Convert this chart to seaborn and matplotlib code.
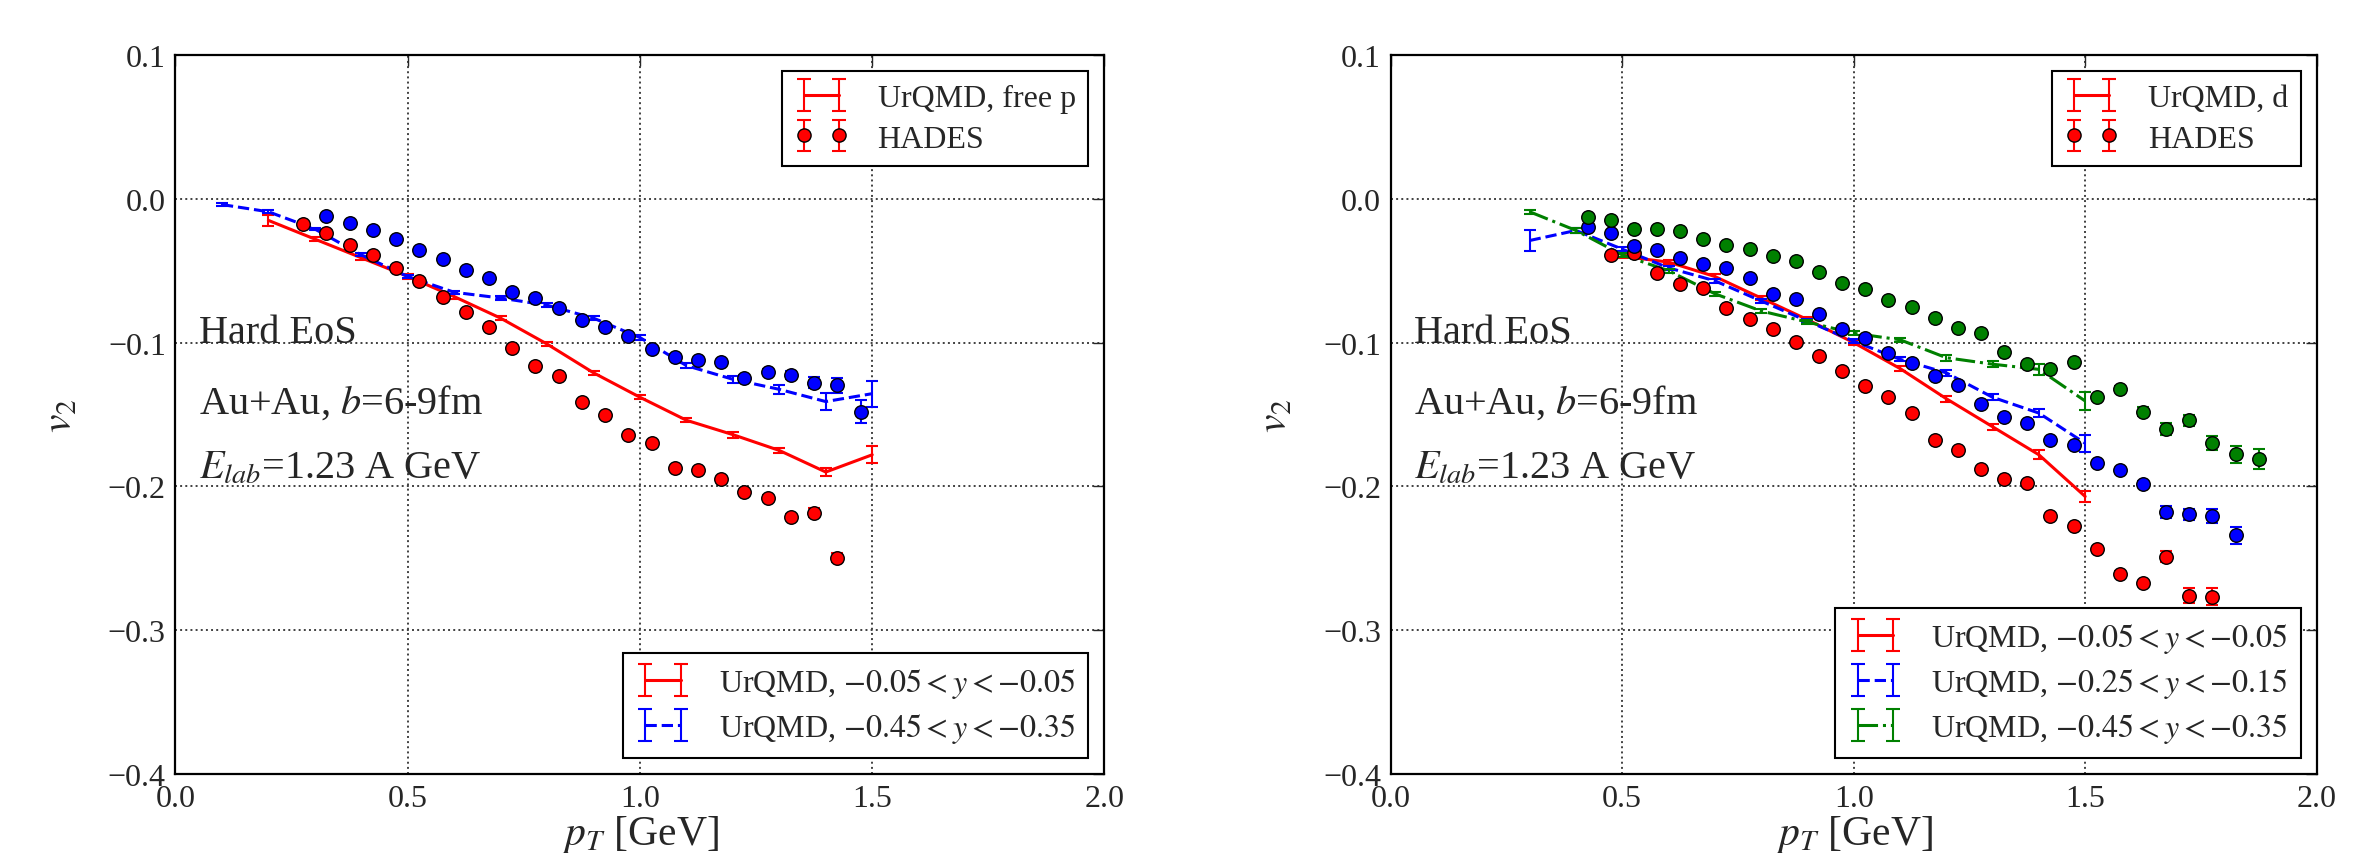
import numpy as np
import matplotlib
matplotlib.use("Agg")
import matplotlib.pyplot as plt
import seaborn as sns

# =========================
# Data
# =========================
# left panel: free protons
pt_urqmd_p = [0.2, 0.3, 0.4, 0.5, 0.6, 0.7, 0.8, 0.9, 1.0, 1.1, 1.2, 1.3, 1.4, 1.5]
v2_urqmd_p_mid = [-0.015, -0.028, -0.041, -0.054, -0.068, -0.083, -0.101, -0.121,
                  -0.138, -0.154, -0.164, -0.175, -0.190, -0.178]
err_urqmd_p_mid = [0.004, 0.0015, 0.0015, 0.0015, 0.0015, 0.0015, 0.0015, 0.0015,
                   0.0015, 0.0015, 0.002, 0.002, 0.003, 0.006]

pt_urqmd_p_fwd = [0.1, 0.2, 0.3, 0.4, 0.5, 0.6, 0.7, 0.8, 0.9, 1.0, 1.1, 1.2, 1.3, 1.4, 1.5]
v2_urqmd_p_fwd = [-0.004, -0.009, -0.021, -0.039, -0.054, -0.065, -0.069, -0.074, -0.083,
                  -0.0965, -0.116, -0.1255, -0.1325, -0.141, -0.1355]
err_urqmd_p_fwd = [0.001, 0.001, 0.001, 0.001, 0.001, 0.001, 0.0015, 0.0015, 0.0015,
                   0.0015, 0.002, 0.0025, 0.003, 0.006, 0.009]

pt_hades_p_mid = [0.275, 0.325, 0.375, 0.425, 0.475, 0.525, 0.575, 0.625, 0.675, 0.725,
                  0.775, 0.825, 0.875, 0.925, 0.975, 1.025, 1.075, 1.125, 1.175, 1.225,
                  1.275, 1.325, 1.375, 1.425]
v2_hades_p_mid = [-0.0177, -0.0241, -0.0323, -0.0392, -0.0483, -0.0571, -0.068, -0.0786,
                  -0.089, -0.1038, -0.1163, -0.1231, -0.141, -0.1502, -0.1643, -0.1699,
                  -0.187, -0.1887, -0.1951, -0.2037, -0.2083, -0.2211, -0.2183, -0.2496]
err_hades_p_mid = [0.001] * 18 + [0.0015, 0.0015, 0.002, 0.002, 0.003, 0.003]

pt_hades_p_fwd = [0.325, 0.375, 0.425, 0.475, 0.525, 0.575, 0.625, 0.675, 0.725, 0.775,
                  0.825, 0.875, 0.925, 0.975, 1.025, 1.075, 1.125, 1.175, 1.225, 1.275,
                  1.325, 1.375, 1.425, 1.475]
v2_hades_p_fwd = [-0.0119, -0.017, -0.0216, -0.0281, -0.0356, -0.042, -0.0493, -0.0551,
                  -0.0645, -0.0689, -0.0756, -0.0843, -0.0889, -0.0952, -0.1047, -0.1097,
                  -0.1123, -0.1135, -0.1244, -0.1205, -0.1225, -0.1278, -0.1297, -0.148]
err_hades_p_fwd = [0.001] * 18 + [0.002, 0.002, 0.003, 0.004, 0.005, 0.008]

# right panel: deuterons
pt_urqmd_d_mid = [0.5, 0.6, 0.7, 0.8, 0.9, 1.0, 1.1, 1.2, 1.3, 1.4, 1.5]
v2_urqmd_d_mid = [-0.040, -0.044, -0.054, -0.069, -0.084, -0.100, -0.118, -0.139,
                  -0.1585, -0.178, -0.207]
err_urqmd_d_mid = [0.0015, 0.0015, 0.0015, 0.0015, 0.0015, 0.0015, 0.0015, 0.002,
                   0.002, 0.003, 0.004]

pt_urqmd_d_int = [0.3, 0.4, 0.5, 0.6, 0.7, 0.8, 0.9, 1.0, 1.1, 1.2, 1.3, 1.4, 1.5]
v2_urqmd_d_int = [-0.029, -0.022, -0.035, -0.048, -0.057, -0.071, -0.085, -0.099,
                  -0.1116, -0.121, -0.138, -0.149, -0.170]
err_urqmd_d_int = [0.007, 0.0015, 0.0015, 0.0015, 0.0015, 0.0015, 0.0015, 0.0015,
                   0.0015, 0.002, 0.002, 0.003, 0.006]

pt_urqmd_d_fwd = [0.3, 0.4, 0.5, 0.6, 0.7, 0.8, 0.9, 1.0, 1.1, 1.2, 1.3, 1.4, 1.5]
v2_urqmd_d_fwd = [-0.009, -0.022, -0.039, -0.050, -0.066, -0.078, -0.0857, -0.0935,
                  -0.098, -0.1105, -0.115, -0.1186, -0.1406]
err_urqmd_d_fwd = [0.0015, 0.0015, 0.0015, 0.0015, 0.0015, 0.0015, 0.0015, 0.0015,
                   0.0015, 0.002, 0.002, 0.004, 0.006]

pt_hades_d_mid = [0.475, 0.525, 0.575, 0.625, 0.675, 0.725, 0.775, 0.825, 0.875, 0.925,
                  0.975, 1.025, 1.075, 1.125, 1.175, 1.225, 1.275, 1.325, 1.375, 1.425,
                  1.475, 1.525, 1.575, 1.625, 1.675, 1.725, 1.775]
v2_hades_d_mid = [-0.0393, -0.0374, -0.0513, -0.0594, -0.0617, -0.0756, -0.0833, -0.0907,
                  -0.0996, -0.1093, -0.120, -0.130, -0.1379, -0.1492, -0.1678, -0.175,
                  -0.1882, -0.1951, -0.1974, -0.2207, -0.2276, -0.2438, -0.2608, -0.2675,
                  -0.2489, -0.2759, -0.2768]
err_hades_d_mid = [0.001] * 21 + [0.0015, 0.002, 0.002, 0.004, 0.005, 0.006]

pt_hades_d_int = [0.425, 0.475, 0.525, 0.575, 0.625, 0.675, 0.725, 0.775, 0.825, 0.875,
                  0.925, 0.975, 1.025, 1.075, 1.125, 1.175, 1.225, 1.275, 1.325, 1.375,
                  1.425, 1.475, 1.525, 1.575, 1.625, 1.675, 1.725, 1.775, 1.825]
v2_hades_d_int = [-0.0193, -0.0235, -0.0328, -0.0356, -0.0413, -0.045, -0.0483, -0.0548,
                  -0.0664, -0.0699, -0.0798, -0.0907, -0.0965, -0.107, -0.1144, -0.1232,
                  -0.1297, -0.143, -0.1515, -0.1557, -0.1678, -0.1715, -0.184, -0.1887,
                  -0.198, -0.2179, -0.2195, -0.2207, -0.234]
err_hades_d_int = [0.001] * 23 + [0.0015, 0.002, 0.004, 0.004, 0.005, 0.006]

pt_hades_d_fwd = [0.425, 0.475, 0.525, 0.575, 0.625, 0.675, 0.725, 0.775, 0.825, 0.875,
                  0.925, 0.975, 1.025, 1.075, 1.125, 1.175, 1.225, 1.275, 1.325, 1.375,
                  1.425, 1.475, 1.525, 1.575, 1.625, 1.675, 1.725, 1.775, 1.825, 1.875]
v2_hades_d_fwd = [-0.0123, -0.0144, -0.0212, -0.0207, -0.0223, -0.0276, -0.0323, -0.0346,
                  -0.0397, -0.0432, -0.0506, -0.0587, -0.0629, -0.0706, -0.075, -0.0826,
                  -0.090, -0.0935, -0.1065, -0.1146, -0.1186, -0.1135, -0.1376, -0.1325,
                  -0.148, -0.160, -0.154, -0.170, -0.1777, -0.181]
err_hades_d_fwd = [0.001] * 23 + [0.002, 0.003, 0.004, 0.004, 0.005, 0.006, 0.007]

# =========================
# Style
# =========================
sns.set_style("white")
plt.rcParams["font.family"] = ["Liberation Serif", "DejaVu Serif"]
plt.rcParams["mathtext.fontset"] = "stix"

TICK_FS = 23
LABEL_FS = 30
TEXT_FS = 29
LEG_FS = 23
CAP = 4


def tick_fmt(v, pos):
    return f"{v:.1f}".replace("-", "\u2212")


def draw_model(ax, x, y, err, color, ls):
    sns.lineplot(x=x, y=y, ax=ax, color=color, linestyle=ls, linewidth=2.2, zorder=2)
    ax.errorbar(x, y, yerr=err, fmt="none", ecolor=color, elinewidth=1.5,
                capsize=CAP, capthick=1.5, zorder=2)


def draw_hades(ax, x, y, err, color):
    ax.errorbar(x, y, yerr=err, fmt="none", ecolor=color, elinewidth=1.5,
                capsize=CAP, capthick=1.5, zorder=3)
    sns.scatterplot(x=x, y=y, ax=ax, color=color, edgecolor="black", linewidth=1,
                    s=95, zorder=4)


def proxy(ax, color, ls="-", marker=None):
    # empty errorbar container, only used for the legend handle
    if marker:
        return ax.errorbar([np.nan], [np.nan], yerr=[np.nan], fmt="o", color=color,
                           mfc=color, mec="black", ms=9.5, ecolor=color,
                           elinewidth=1.5, capsize=CAP + 1, capthick=1.5)
    return ax.errorbar([np.nan], [np.nan], yerr=[np.nan], fmt=ls, color=color, lw=2.2,
                       elinewidth=1.5, capsize=CAP + 1, capthick=1.5)


def style_axes(ax):
    ax.set_xlim(0.0, 2.0)
    ax.set_ylim(-0.4, 0.1)
    ax.set_xticks([0.0, 0.5, 1.0, 1.5, 2.0])
    ax.set_yticks([-0.4, -0.3, -0.2, -0.1, 0.0, 0.1])
    ax.xaxis.set_major_formatter(matplotlib.ticker.FuncFormatter(tick_fmt))
    ax.yaxis.set_major_formatter(matplotlib.ticker.FuncFormatter(tick_fmt))
    ax.grid(True, linestyle=":", color="0.25", linewidth=1.4)
    ax.tick_params(direction="in", length=8, width=1, top=True, right=True,
                   labelsize=TICK_FS, pad=7)
    for sp in ax.spines.values():
        sp.set_visible(True)
        sp.set_color("black")
        sp.set_linewidth(1.6)
    ax.set_xlabel(r"$p_T$ [GeV]", fontsize=LABEL_FS, labelpad=0)
    ax.set_ylabel(r"$v_2$", fontsize=LABEL_FS, labelpad=20)
    ax.text(0.05, -0.0996, "Hard EoS", fontsize=TEXT_FS, va="baseline")
    ax.text(0.05, -0.1487, r"Au+Au, $b$=6-9fm", fontsize=TEXT_FS, va="baseline")
    ax.text(0.05, -0.194, r"$E_{lab}$=1.23 A GeV", fontsize=TEXT_FS, va="baseline")


def add_legends(ax, top_handles, top_labels, bottom_handles, bottom_labels):
    kw = dict(fontsize=LEG_FS, numpoints=2, handlelength=1.7, handletextpad=0.9,
              fancybox=False, framealpha=1, edgecolor="black", borderpad=0.4,
              labelspacing=0.35)
    leg1 = ax.legend(top_handles, top_labels, loc="upper right", **kw)
    leg1.get_frame().set_linewidth(1.5)
    ax.add_artist(leg1)
    leg2 = ax.legend(bottom_handles, bottom_labels, loc="lower right", **kw)
    leg2.get_frame().set_linewidth(1.5)


# =========================
# Figure
# =========================
fig = plt.figure(figsize=(23.62, 8.54), dpi=100)
ax1 = fig.add_axes([0.0743, 0.0925, 0.3933, 0.8419])
ax2 = fig.add_axes([0.5888, 0.0925, 0.3920, 0.8419])

# left: free protons
draw_model(ax1, pt_urqmd_p, v2_urqmd_p_mid, err_urqmd_p_mid, "red", "-")
draw_model(ax1, pt_urqmd_p_fwd, v2_urqmd_p_fwd, err_urqmd_p_fwd, "blue", "--")
draw_hades(ax1, pt_hades_p_mid, v2_hades_p_mid, err_hades_p_mid, "red")
draw_hades(ax1, pt_hades_p_fwd, v2_hades_p_fwd, err_hades_p_fwd, "blue")
style_axes(ax1)
add_legends(ax1,
            [proxy(ax1, "red"), proxy(ax1, "red", marker="o")],
            ["UrQMD, free p", "HADES"],
            [proxy(ax1, "red"), proxy(ax1, "blue", "--")],
            [r"UrQMD, $-0.05 < y < -0.05$", r"UrQMD, $-0.45 < y < -0.35$"])

# right: deuterons
draw_model(ax2, pt_urqmd_d_mid, v2_urqmd_d_mid, err_urqmd_d_mid, "red", "-")
draw_model(ax2, pt_urqmd_d_int, v2_urqmd_d_int, err_urqmd_d_int, "blue", "--")
draw_model(ax2, pt_urqmd_d_fwd, v2_urqmd_d_fwd, err_urqmd_d_fwd, "green", "-.")
draw_hades(ax2, pt_hades_d_mid, v2_hades_d_mid, err_hades_d_mid, "red")
draw_hades(ax2, pt_hades_d_int, v2_hades_d_int, err_hades_d_int, "blue")
draw_hades(ax2, pt_hades_d_fwd, v2_hades_d_fwd, err_hades_d_fwd, "green")
style_axes(ax2)
add_legends(ax2,
            [proxy(ax2, "red"), proxy(ax2, "red", marker="o")],
            ["UrQMD, d", "HADES"],
            [proxy(ax2, "red"), proxy(ax2, "blue", "--"), proxy(ax2, "green", "-.")],
            [r"UrQMD, $-0.05 < y < -0.05$", r"UrQMD, $-0.25 < y < -0.15$",
             r"UrQMD, $-0.45 < y < -0.35$"])

fig.savefig("out.png", dpi=100)
